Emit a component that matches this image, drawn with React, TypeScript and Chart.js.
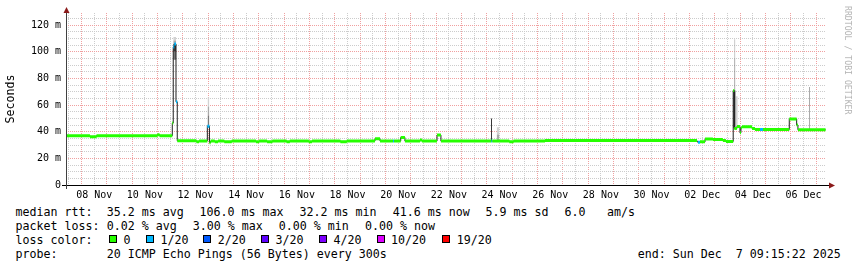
import React, { useEffect, useRef } from 'react';
import { Chart, registerables } from 'chart.js';

Chart.register(...registerables);

// ---------------- data ----------------
// Time axis: hours since start (Fri Nov 7 09:15:22 2025), 30 days = 720 h
const rangeHours = 720;
const dataEndHour = 719.6;
const firstMidnightHour = 14.75; // Nov 8 00:00
const firstNoonHour = 2.75; // Nov 7 12:00
const firstLabelHour = 26.75; // Nov 8 12:00
const xLabelText = ['08 Nov', '10 Nov', '12 Nov', '14 Nov', '16 Nov', '18 Nov', '20 Nov', '22 Nov', '24 Nov', '26 Nov', '28 Nov', '30 Nov', '02 Dec', '04 Dec', '06 Dec'];

// Y axis (milliseconds)
const yMax = 129.2;
const yMinorStep = 5;
const yMajorStep = 20;

// median rtt steps: start hour, value (ms), loss bucket (0 = 0/20, 1 = 1/20)
const medianHours = [0, 22.7, 28.9, 86.7, 88.6, 100.7, 101.6, 102.6, 104.2, 105.4, 123.6, 126.0, 133.9, 135.9, 137.0, 141.0, 144.0, 150.0, 157.0, 180.0, 183.0, 190.5, 195.5, 209.0, 212.0, 230.0, 233.0, 260.0, 266.0, 292.7, 297.5, 309.8, 310.8, 317.1, 321.1, 335.4, 337.2, 351.5, 355.2, 402.9, 403.9, 420.0, 424.0, 453.8, 597.8, 598.7, 600.6, 605.4, 612.9, 622.3, 625.2, 632.1, 633.1, 635.6, 638.5, 639.4, 640.4, 649.9, 652.7, 657.5, 660.3, 685.2, 692.2, 693.4];
const medianValues = [37.0, 36.2, 37.0, 37.8, 37.0, 46.5, 103.7, 106.0, 62.5, 33.2, 32.4, 33.1, 44.2, 31.8, 33.0, 32.5, 33.0, 32.5, 33.0, 32.4, 33.0, 32.4, 33.0, 32.4, 33.0, 32.5, 33.0, 32.5, 33.0, 34.7, 33.0, 33.0, 33.0, 35.7, 33.0, 33.8, 33.0, 37.5, 33.0, 33.0, 33.0, 32.5, 33.0, 33.4, 32.4, 32.2, 32.4, 34.5, 34.2, 33.5, 32.7, 71.0, 42.5, 44.0, 39.2, 43.0, 43.7, 42.5, 41.7, 41.7, 41.7, 49.6, 45.0, 41.5];
const medianLoss = [0, 0, 0, 0, 0, 0, 1, 1, 1, 0, 0, 0, 1, 0, 0, 0, 0, 0, 0, 0, 0, 0, 0, 0, 0, 0, 0, 0, 0, 0, 0, 1, 0, 0, 0, 0, 0, 0, 0, 1, 0, 0, 0, 0, 0, 1, 0, 0, 0, 0, 0, 0, 0, 0, 0, 0, 0, 0, 0, 1, 0, 0, 0, 0];

// smoke (spread of the 20 pings) where it is visible
const smokeStart = [101.6, 101.6, 101.6, 101.6, 134.1, 134.1, 134.1, 402.6, 408.0, 408.0, 632.1, 633.1, 633.1, 634.2, 703.9];
const smokeEnd = [104.4, 104.4, 104.4, 104.4, 135.8, 135.8, 135.8, 403.6, 410.6, 410.6, 634.4, 634.1, 634.1, 636.4, 704.9];
const smokeLow = [94, 100, 106, 108.5, 44, 52, 59, 33, 33, 38, 43, 71, 95, 44, 41.5];
const smokeHigh = [100, 106, 108.5, 111.2, 52, 59, 66, 50, 38, 43.3, 71, 95, 109.5, 66.7, 73.7];
const smokeRank = [1, 0, 2, 3, 1, 2, 3, 0, 2, 3, 0, 1, 2, 3, 2];

// legend texts
const lossLabels = ['0', '1/20', '2/20', '3/20', '4/20', '10/20', '19/20'];
const lossColors = ['#26ff00', '#00b8ff', '#0059ff', '#5e00ff', '#7e00ff', '#dd00ff', '#ff0000'];
const medianRttText = ['35.2 ms avg', '106.0 ms max', '32.2 ms min', '41.6 ms now', '5.9 ms sd', '6.0', 'am/s'];
const packetLossText = ['0.02 % avg', '3.00 % max', '0.00 % min', '0.00 % now'];
const probeText = '20 ICMP Echo Pings (56 Bytes) every 300s';
const endText = 'end: Sun Dec  7 09:15:22 2025';

// ---------------- styles ----------------
const MONO = '"DejaVu Sans Mono", monospace';
const GRID_GREY = '#cccccc';
const GRID_RED = '#f0a0a0';
const SMOKE_SHADES = ['#383838', '#7a7a7a', '#aaaaaa', '#d2d2d2'];
const MEDIAN_LINE = '#202020';
const ARROW = '#8b1a1a';

const near = (a: number, b: number) => Math.abs(a - b) < 0.01;
const isMidnight = (v: number) => {
  const r = (((v - firstMidnightHour) % 24) + 24) % 24;
  return r < 0.01 || r > 23.99;
};

function bandData(bucket: number) {
  const pts: { x: number; y: number | null }[] = [];
  for (let i = 0; i < medianHours.length; i++) {
    if (medianLoss[i] !== bucket) continue;
    const t0 = medianHours[i];
    const t1 = i + 1 < medianHours.length ? medianHours[i + 1] : dataEndHour;
    pts.push({ x: t0, y: medianValues[i] }, { x: t1, y: medianValues[i] }, { x: t1, y: null });
  }
  return pts;
}

const axesPlugin = {
  id: 'rrdAxes',
  afterDraw(chart: any) {
    const { ctx, chartArea } = chart;
    const { left, right, top, bottom } = chartArea;
    ctx.save();
    ctx.lineWidth = 1;
    ctx.strokeStyle = '#000';
    ctx.beginPath();
    ctx.moveTo(left - 4, bottom + 0.5);
    ctx.lineTo(right + 4, bottom + 0.5);
    ctx.stroke();
    ctx.strokeStyle = '#404040';
    ctx.beginPath();
    ctx.moveTo(left + 0.5, bottom + 4);
    ctx.lineTo(left + 0.5, top - 2);
    ctx.stroke();
    ctx.fillStyle = ARROW;
    ctx.beginPath();
    ctx.moveTo(left + 0.5 - 3, top);
    ctx.lineTo(left + 0.5 + 3, top);
    ctx.lineTo(left + 0.5, top - 6);
    ctx.closePath();
    ctx.fill();
    ctx.beginPath();
    ctx.moveTo(right + 3, bottom + 0.5 - 3);
    ctx.lineTo(right + 3, bottom + 0.5 + 3);
    ctx.lineTo(right + 9, bottom + 0.5);
    ctx.closePath();
    ctx.fill();
    ctx.restore();
  },
};

export default function App() {
  const ref = useRef<HTMLCanvasElement | null>(null);

  useEffect(() => {
    if (!ref.current) return;
    const xGrid: number[] = [];
    for (let v = firstNoonHour; v <= rangeHours; v += 12) xGrid.push(v);
    const yGrid: number[] = [];
    for (let v = 0; v <= yMax; v += yMinorStep) yGrid.push(v);

    const smokeSets = smokeStart.map((s, i) => ({
      type: 'line' as const,
      data: [
        { x: s, y: smokeHigh[i] },
        { x: smokeEnd[i], y: smokeHigh[i] },
      ],
      fill: { value: smokeLow[i] },
      backgroundColor: SMOKE_SHADES[smokeRank[i]],
      borderWidth: 0,
      pointRadius: 0,
      order: 3,
    }));

    const medianLine = medianHours.map((h, i) => ({ x: h, y: medianValues[i] }));
    medianLine.push({ x: dataEndHour, y: medianValues[medianValues.length - 1] });

    const bandSets = lossColors.map((c, b) => ({
      type: 'line' as const,
      data: bandData(b),
      borderColor: c,
      borderWidth: 3,
      borderCapStyle: 'butt' as const,
      pointRadius: 0,
      fill: false,
      spanGaps: false,
      order: 0,
    }));

    const chart = new Chart(ref.current, {
      type: 'line',
      data: {
        datasets: [
          ...bandSets,
          {
            type: 'line',
            data: medianLine,
            stepped: 'before',
            borderColor: MEDIAN_LINE,
            borderWidth: 1,
            pointRadius: 0,
            fill: false,
            order: 1,
          },
          ...smokeSets,
        ] as any,
      },
      options: {
        responsive: false,
        animation: false,
        devicePixelRatio: 1,
        events: [],
        layout: { padding: { top: 13, right: 31, left: 0, bottom: 0 } },
        plugins: {
          legend: { display: false },
          tooltip: { enabled: false },
          title: { display: false },
        },
        elements: { point: { radius: 0 }, line: { tension: 0 } },
        scales: {
          x: {
            type: 'linear',
            min: 0,
            max: rangeHours,
            afterBuildTicks: (s: any) => {
              s.ticks = xGrid.map((v) => ({ value: v }));
            },
            afterFit: (s: any) => {
              s.height = 20;
            },
            grid: {
              color: (ctx: any) => (isMidnight(ctx.tick.value) ? GRID_RED : GRID_GREY),
              lineWidth: 1,
              drawTicks: false,
            },
            border: { display: false, dash: [1, 1] },
            ticks: {
              autoSkip: false,
              maxRotation: 0,
              minRotation: 0,
              padding: 4,
              color: '#000',
              font: { family: MONO, size: 10 },
              callback: (v: any) => {
                const j = xLabelText.findIndex((_, k) => near(Number(v), firstLabelHour + 48 * k));
                return j >= 0 ? xLabelText[j] : '';
              },
            },
          },
          y: {
            type: 'linear',
            min: 0,
            max: yMax,
            afterBuildTicks: (s: any) => {
              s.ticks = yGrid.map((v) => ({ value: v }));
            },
            afterFit: (s: any) => {
              s.width = 66;
            },
            grid: {
              color: (ctx: any) => (ctx.tick.value % yMajorStep === 0 ? GRID_RED : GRID_GREY),
              lineWidth: 1,
              drawTicks: false,
            },
            border: { display: false, dash: [1, 1] },
            ticks: {
              autoSkip: false,
              padding: 5,
              color: '#000',
              font: { family: MONO, size: 10 },
              callback: (v: any) => {
                const n = Number(v);
                if (n % yMajorStep !== 0) return '';
                return n === 0 ? '0' : `${n} m`;
              },
            },
            title: {
              display: true,
              text: 'Seconds',
              color: '#000',
              font: { family: MONO, size: 11.63 },
              padding: { top: 4, bottom: 0 },
            },
          },
        },
      } as any,
      plugins: [axesPlugin],
    });
    return () => chart.destroy();
  }, []);

  const rowTop = (i: number) => 204.7 + 14 * i;
  const txt = (x: number, row: number, s: string, key: string) => (
    <div
      key={key}
      style={{
        position: 'absolute',
        left: x - 0.6,
        top: rowTop(row),
        fontFamily: MONO,
        fontSize: '11.63px',
        lineHeight: '14px',
        whiteSpace: 'pre',
        color: '#000',
      }}
    >
      {s}
    </div>
  );
  const rttX = [107.3, 200, 300, 393.3, 486, 565, 607.7];
  const lossX = [107.3, 193.3, 279.3, 365.7];
  const boxX = [109, 146, 203.3, 261, 319, 376.7, 442.3];

  return (
    <div style={{ position: 'absolute', left: 0, top: 0, width: 857, height: 267, background: '#fff', overflow: 'hidden' }}>
      <canvas ref={ref} width={857} height={205} style={{ position: 'absolute', left: 0, top: 0, width: 857, height: 205 }} />
      {txt(16, 0, 'median rtt:', 'r0')}
      {medianRttText.map((s, i) => txt(rttX[i], 0, s, 'm' + i))}
      {txt(16, 1, 'packet loss:', 'r1')}
      {packetLossText.map((s, i) => txt(lossX[i], 1, s, 'p' + i))}
      {txt(16, 2, 'loss color:', 'r2')}
      {lossLabels.map((s, i) => (
        <React.Fragment key={'l' + i}>
          <div
            style={{
              position: 'absolute',
              left: boxX[i],
              top: 235,
              width: 8,
              height: 8,
              boxSizing: 'border-box',
              border: '1px solid #000',
              background: lossColors[i],
            }}
          />
          {txt(boxX[i] + 15, 2, s, 'lt' + i)}
        </React.Fragment>
      ))}
      {txt(16, 3, 'probe:', 'r3')}
      {txt(107.3, 3, probeText, 'pr')}
      {txt(638.3, 3, endText, 'end')}
      <div
        style={{
          position: 'absolute',
          left: 853.3,
          top: 6,
          transform: 'rotate(90deg)',
          transformOrigin: 'left top',
          fontFamily: MONO,
          fontSize: '8.2px',
          lineHeight: '10px',
          whiteSpace: 'pre',
          color: '#b4b4b4',
        }}
      >
        RRDTOOL / TOBI OETIKER
      </div>
    </div>
  );
}
